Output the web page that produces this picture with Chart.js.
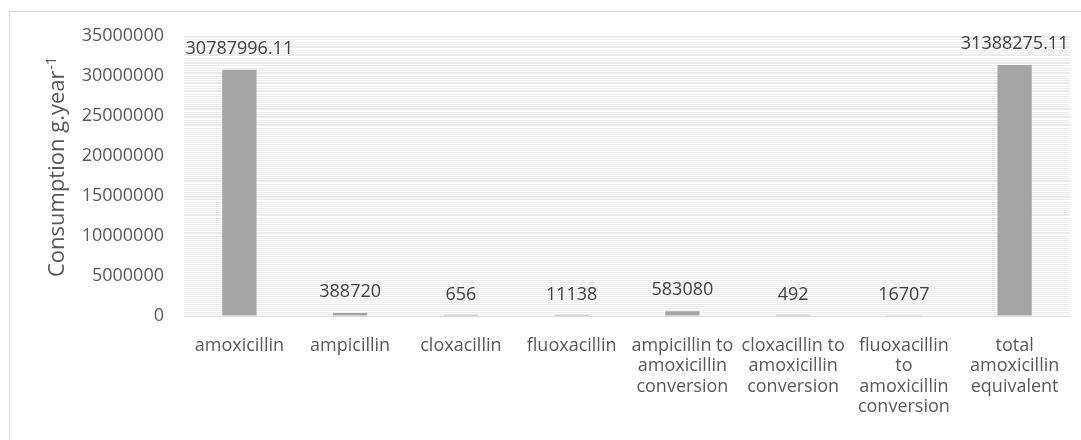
<!DOCTYPE html>
<html>
<head>
<meta charset="utf-8">
<script src="https://cdn.jsdelivr.net/npm/chart.js@4"></script>
<style>
  html, body { margin: 0; padding: 0; background: #ffffff; }
  #wrap { width: 1081px; height: 440px; position: relative; }
</style>
</head>
<body>
<div id="wrap"><canvas id="c"></canvas></div>
<script>
// Antibiotic consumption per substance
const categories = [
  'amoxicillin',
  'ampicillin',
  'cloxacillin',
  'fluoxacillin',
  ['ampicillin to', 'amoxicillin', 'conversion'],
  ['cloxacillin to', 'amoxicillin', 'conversion'],
  ['fluoxacillin', 'to', 'amoxicillin', 'conversion'],
  ['total', 'amoxicillin', 'equivalent']
];
const consumption = [30787996.11, 388720, 656, 11138, 583080, 492, 16707, 31388275.11];
const yTicks = [0, 5000000, 10000000, 15000000, 20000000, 25000000, 30000000, 35000000];
const axisTitle = 'Consumption g.year';
const axisTitleSup = '-1';

const FONT = "'Open Sans', 'DejaVu Sans', sans-serif";

// light outer frame of the chart
const framePlugin = {
  id: 'frame',
  beforeDraw(chart) {
    const ctx = chart.ctx;
    ctx.save();
    ctx.strokeStyle = '#d9d9d9';
    ctx.lineWidth = 1;
    ctx.strokeRect(9.5, 11.5, chart.width + 10, chart.height + 10);
    ctx.restore();
  }
};

// rotated y-axis title with a superscript unit exponent
const axisTitlePlugin = {
  id: 'axisTitle',
  afterDraw(chart) {
    const ctx = chart.ctx;
    ctx.save();
    ctx.fillStyle = '#595959';
    ctx.textBaseline = 'alphabetic';
    ctx.textAlign = 'left';
    const mainFont = '22px ' + FONT;
    const supFont = '14px ' + FONT;
    ctx.font = mainFont;
    const wMain = ctx.measureText(axisTitle).width;
    ctx.font = supFont;
    const wSup = ctx.measureText(axisTitleSup).width;
    const total = wMain + wSup + 1;
    ctx.translate(64, 167);
    ctx.rotate(-Math.PI / 2);
    ctx.font = mainFont;
    ctx.fillText(axisTitle, -total / 2, 0);
    ctx.font = supFont;
    ctx.fillText(axisTitleSup, -total / 2 + wMain + 1, -8);
    ctx.restore();
  }
};

// value labels above each bar
const valueLabels = {
  id: 'valueLabels',
  afterDatasetsDraw(chart) {
    const ctx = chart.ctx;
    const meta = chart.getDatasetMeta(0);
    const data = chart.data.datasets[0].data;
    ctx.save();
    ctx.font = '18px ' + FONT;
    ctx.fillStyle = '#404040';
    ctx.textAlign = 'center';
    ctx.textBaseline = 'middle';
    meta.data.forEach((bar, i) => {
      ctx.fillText(String(data[i]), bar.x, bar.y - 21);
    });
    ctx.restore();
  }
};

new Chart(document.getElementById('c'), {
  type: 'bar',
  data: {
    labels: categories,
    datasets: [{
      data: consumption,
      backgroundColor: '#a5a5a5',
      borderWidth: 0,
      categoryPercentage: 1,
      barPercentage: 0.31
    }]
  },
  options: {
    responsive: true,
    maintainAspectRatio: false,
    animation: false,
    devicePixelRatio: 1,
    layout: { padding: { left: 46, top: 36, right: 11, bottom: 0 } },
    plugins: {
      legend: { display: false },
      tooltip: { enabled: false }
    },
    scales: {
      x: {
        grid: { display: false, drawTicks: false },
        border: { display: true, color: '#d9d9d9' },
        ticks: {
          color: '#595959',
          font: { family: FONT, size: 18, lineHeight: 1.12 },
          maxRotation: 0,
          autoSkip: false,
          padding: 20
        },
        afterFit(scale) { scale.height = 124; }
      },
      y: {
        min: 0,
        max: 35000000,
        afterBuildTicks(scale) { scale.ticks = yTicks.map(v => ({ value: v })); },
        grid: { color: '#d9d9d9', drawTicks: false },
        border: { display: false },
        ticks: {
          color: '#595959',
          font: { family: FONT, size: 18 },
          padding: 20,
          callback: v => String(v)
        },
        afterFit(scale) { scale.width = 138; }
      },
      yMinor: {
        position: 'right',
        min: 0,
        max: 35000000,
        z: -1,
        grid: { color: '#ebebeb', drawTicks: false },
        border: { display: false },
        ticks: { display: false, stepSize: 250000 },
        afterFit(scale) { scale.width = 0; }
      }
    }
  },
  plugins: [framePlugin, axisTitlePlugin, valueLabels]
});
</script>
</body>
</html>
